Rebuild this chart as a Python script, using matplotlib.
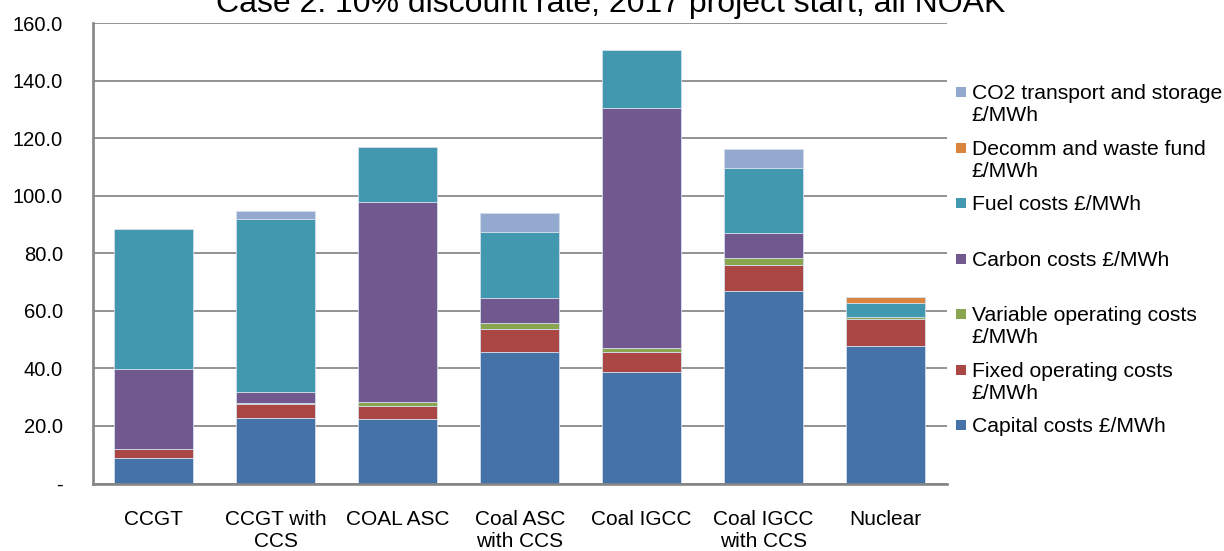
import numpy as np
import matplotlib
matplotlib.use("Agg")
import matplotlib.pyplot as plt
from matplotlib.patches import Rectangle

plt.rcParams['font.family'] = ['Liberation Sans', 'DejaVu Sans']

# levelised cost components per technology, £/MWh
categories = ["CCGT", "CCGT with\nCCS", "COAL ASC", "Coal ASC\nwith CCS",
              "Coal IGCC", "Coal IGCC\nwith CCS", "Nuclear"]
capital = [8.9, 22.9, 22.3, 45.6, 38.9, 66.8, 47.9]
fixed_om = [3.0, 4.6, 4.8, 8.1, 6.9, 9.2, 9.3]
variable_om = [0.0, 0.5, 1.2, 2.1, 1.3, 2.4, 0.6]
carbon = [27.8, 3.9, 69.4, 8.8, 83.3, 8.8, 0.0]
fuel = [48.7, 59.9, 19.2, 23.0, 20.4, 22.6, 5.0]
decomm = [0.0, 0.0, 0.0, 0.0, 0.0, 0.0, 2.1]
co2_ts = [0.0, 3.1, 0.0, 6.4, 0.0, 6.4, 0.0]

series_names = ["Capital costs £/MWh",
                "Fixed operating costs\n£/MWh",
                "Variable operating costs\n£/MWh",
                "Carbon costs £/MWh",
                "Fuel costs £/MWh",
                "Decomm and waste fund\n£/MWh",
                "CO2 transport and storage\n£/MWh"]
series_values = [capital, fixed_om, variable_om, carbon, fuel, decomm, co2_ts]
colors = ["#4572A7", "#AA4643", "#89A54E", "#71588F", "#4198AF", "#DB843D", "#93A9CF"]

W, H = 1224, 551
fig = plt.figure(figsize=(W / 100, H / 100), dpi=100)
ax = fig.add_axes([92.7 / W, 1 - 483.5 / H, (946.7 - 92.7) / W, (483.5 - 23.3) / H])

x = np.arange(len(categories))
bottom = np.zeros(len(categories))
for vals, col in zip(series_values, colors):
    vals = np.array(vals)
    ax.bar(x, vals, width=0.645, bottom=bottom, color=col,
           edgecolor="#d3deea", linewidth=0.6, zorder=3)
    bottom += vals

ax.set_xlim(-0.5, len(categories) - 0.5)
ax.set_ylim(0, 160)
yt = np.arange(0, 161, 20)
ax.set_yticks(yt)
ax.set_yticklabels(["-" if v == 0 else f"{v:.1f}" for v in yt], fontsize=14.5)
ax.set_xticks(x)
ax.set_xticklabels(categories, fontsize=15, linespacing=1.2)
ax.tick_params(axis="y", length=0, pad=21.5)
ax.tick_params(axis="x", length=0, pad=19)

ax.grid(axis="y", color="#8a8a8a", linewidth=1.3, zorder=0)
ax.set_axisbelow(True)
for s in ["top", "right"]:
    ax.spines[s].set_visible(False)
for s in ["left", "bottom"]:
    ax.spines[s].set_color("#868686")
    ax.spines[s].set_linewidth(1.9)
    ax.spines[s].set_zorder(4)

# title sits partly above the canvas edge
fig.text(611 / W, 1 - 12.3 / H, "Case 2: 10% discount rate, 2017 project start, all NOAK",
         fontsize=23, ha="center", va="baseline")

# legend drawn by hand, top entry is the last series
y0, step = 92.0, 55.5
for i, (name, col) in enumerate(zip(series_names[::-1], colors[::-1])):
    yc = y0 + i * step
    fig.patches.append(Rectangle((956 / W, 1 - (yc + 5) / H), 10 / W, 10 / H,
                                 transform=fig.transFigure, facecolor=col,
                                 edgecolor="none"))
    fig.text(971.5 / W, 1 - (yc - 7.8) / H, name, fontsize=15.2, ha="left", va="top",
             linespacing=1.2)

fig.savefig("out.png", dpi=100)
